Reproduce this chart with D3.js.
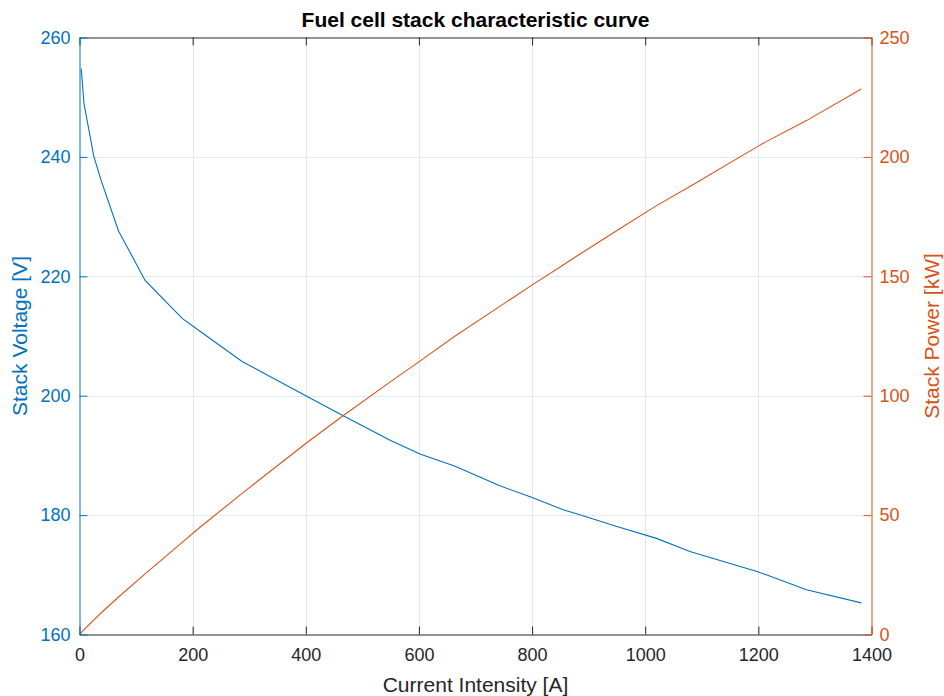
<!DOCTYPE html>
<html>
<head>
<meta charset="utf-8">
<script src="https://cdn.jsdelivr.net/npm/d3@7"></script>
<style>
  body { margin: 0; background: #fff; }
  svg { display: block; font-family: "Liberation Sans", Arial, sans-serif; }
</style>
</head>
<body>
<svg id="chart" width="944" height="696"></svg>
<script>
// values
const currentA = [3, 8, 25, 38, 69, 116, 182, 213, 288, 400, 467, 550, 603, 664,
  743, 799, 855, 880, 950, 1020, 1079, 1199, 1214, 1285, 1382];
const stackVoltage = [254.8, 248.9, 240.2, 236.1, 227.6, 219.3, 212.9, 210.8, 205.7,
  200.0, 196.6, 192.5, 190.2, 188.2, 184.9, 183.0, 180.9, 180.2, 178.1, 176.1,
  173.9, 170.5, 170.0, 167.5, 165.3];
const stackPower = [0.8, 2.0, 6.0, 9.0, 15.7, 25.4, 38.7, 44.9, 59.2, 80.0, 91.8,
  105.9, 114.7, 125.0, 137.4, 146.2, 154.7, 158.6, 169.2, 179.6, 187.6, 204.4,
  206.4, 215.2, 228.4];

const xTicks = [0, 200, 400, 600, 800, 1000, 1200, 1400];
const voltTicks = [160, 180, 200, 220, 240, 260];
const powerTicks = [0, 50, 100, 150, 200, 250];

const blue = "#0072BD";
const orange = "#D95319";
const dark = "#262626";

const svg = d3.select("#chart");
const plotL = 79.5, plotR = 871.5, plotT = 37.5, plotB = 634.5;

const x = d3.scaleLinear().domain([0, 1400]).range([plotL, plotR]);
const yV = d3.scaleLinear().domain([160, 260]).range([plotB, plotT]);
const yP = d3.scaleLinear().domain([0, 250]).range([plotB, plotT]);

// grid
svg.append("g").selectAll("line").data(xTicks.slice(1, -1)).join("line")
  .attr("x1", d => Math.round(x(d)) + 0.5).attr("x2", d => Math.round(x(d)) + 0.5)
  .attr("y1", plotT).attr("y2", plotB)
  .attr("stroke", "#e6e6e6").attr("stroke-width", 1);
svg.append("g").selectAll("line").data(voltTicks.slice(1, -1)).join("line")
  .attr("x1", plotL).attr("x2", plotR)
  .attr("y1", d => Math.round(yV(d)) + 0.5).attr("y2", d => Math.round(yV(d)) + 0.5)
  .attr("stroke", "#e1eaf3").attr("stroke-width", 1);

// lines
const voltLine = d3.line().x((d, i) => x(currentA[i])).y(d => yV(d));

svg.append("path").datum(stackVoltage)
  .attr("d", voltLine).attr("fill", "none")
  .attr("stroke", blue).attr("stroke-width", 1.1);
svg.append("path").datum([0].concat(stackPower))
  .attr("d", d3.line().x((d, i) => x(i === 0 ? 0 : currentA[i - 1])).y(d => yP(d)))
  .attr("fill", "none").attr("stroke", orange).attr("stroke-width", 1.1);

// bottom / top axes
const xAxis = d3.axisBottom(x).tickValues(xTicks).tickFormat(d3.format("d"))
  .tickSizeInner(-8).tickSizeOuter(0).tickPadding(14);
const gx = svg.append("g").attr("transform", `translate(0,${plotB})`).call(xAxis);
gx.select(".domain").attr("stroke", dark);
gx.selectAll(".tick line").attr("stroke", dark);
gx.selectAll("text").attr("fill", dark).style("font-size", "18px");

const gxTop = svg.append("g").attr("transform", `translate(0,${plotT})`)
  .call(d3.axisTop(x).tickValues(xTicks).tickSizeInner(-8).tickSizeOuter(0).tickFormat(""));
gxTop.select(".domain").attr("stroke", dark);
gxTop.selectAll(".tick line").attr("stroke", dark);

// left axis (voltage)
const gyL = svg.append("g").attr("transform", `translate(${plotL},0)`)
  .call(d3.axisLeft(yV).tickValues(voltTicks).tickSizeInner(-8).tickSizeOuter(0).tickPadding(9));
gyL.select(".domain").attr("stroke", blue);
gyL.selectAll(".tick line").attr("stroke", blue);
gyL.selectAll("text").attr("fill", blue).style("font-size", "18px");

// right axis (power)
const gyR = svg.append("g").attr("transform", `translate(${plotR},0)`)
  .call(d3.axisRight(yP).tickValues(powerTicks).tickSizeInner(-8).tickSizeOuter(0).tickPadding(8));
gyR.select(".domain").attr("stroke", orange);
gyR.selectAll(".tick line").attr("stroke", orange);
gyR.selectAll("text").attr("fill", orange).style("font-size", "18px");

// titles
svg.append("text")
  .attr("x", (plotL + plotR) / 2).attr("y", 27)
  .attr("text-anchor", "middle")
  .style("font-size", "21px").style("font-weight", "bold")
  .attr("fill", "#000")
  .text("Fuel cell stack characteristic curve");

svg.append("text")
  .attr("x", (plotL + plotR) / 2).attr("y", 692)
  .attr("text-anchor", "middle")
  .style("font-size", "21px").attr("fill", dark)
  .text("Current Intensity [A]");

svg.append("text")
  .attr("transform", `translate(27,${(plotT + plotB) / 2}) rotate(-90)`)
  .attr("text-anchor", "middle")
  .style("font-size", "21px").attr("fill", blue)
  .text("Stack Voltage [V]");

svg.append("text")
  .attr("transform", `translate(939,${(plotT + plotB) / 2}) rotate(-90)`)
  .attr("text-anchor", "middle")
  .style("font-size", "21px").attr("fill", orange)
  .text("Stack Power [kW]");
</script>
</body>
</html>
